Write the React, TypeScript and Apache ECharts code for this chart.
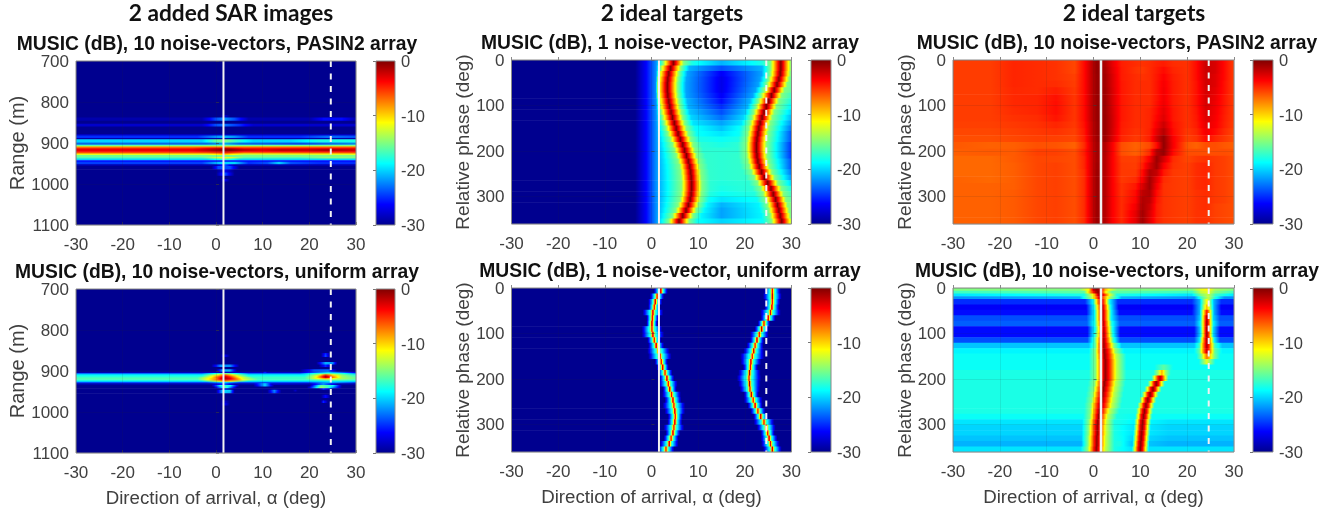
import React, { useEffect, useRef } from "react";
import * as echarts from "echarts";

// Every row below is a flat list of (direction of arrival in deg, MUSIC in dB) pairs.
const alphaLimits = [-30, 30];
const rangeLimits = [700, 1100];
const phaseLimits = [0, 360];
const colorbarLimits = [-30, 0];
const targetAlphaSolid = 1.6;
const targetAlphaDashed = 24.6;

const flat = [-30, -30, 30, -30];

const sarPasinEdges = [700, 832, 838, 846, 853, 860, 878, 882, 888, 891, 899, 904, 908, 911, 914, 920, 923, 926, 929, 934, 938, 942, 946, 952, 956, 964, 972, 980, 988, 994, 1100];
const sarPasinRows = [
  flat,
  [-30, -30, 1, -30, 2, -28, 3, -30, 30, -30],
  [-30, -29, -3, -29, 0, -24, 2, -22, 4, -24, 7, -29, 20, -29, 23, -26, 27, -26, 30, -29],
  flat,
  [-30, -28, -3, -28, 0, -24, 2, -23, 5, -25, 8, -28, 30, -28],
  flat,
  [-30, -28.5, 30, -28.5],
  [-30, -25, -4, -25, 0, -22, 2, -21, 4, -22, 7, -25, 18, -25, 24, -23, 30, -24],
  [-30, -29, 30, -29],
  [-30, -20, -3, -20, 0, -16, 2, -15, 4, -17, 8, -20, 16, -20, 22, -18, 30, -18],
  [-30, -23, -2, -23, 2, -21, 5, -23, 18, -24, 30, -22],
  [-30, -16, 30, -15],
  [-30, -9, 30, -8],
  [-30, -5, -5, -5, 2, -2, 6, -4.5, 30, -4],
  [-30, -3.2, -5, -3.2, -2, -2, 1, -0.6, 3, -0.3, 6, -2, 10, -3, 14, -2, 20, -2.2, 24, -1.4, 28, -2, 30, -2.5],
  [-30, -4, -5, -4, 2, -2, 6, -4, 16, -3.5, 30, -3.5],
  [-30, -8, -2, -8, 2, -6, 6, -9, 30, -8],
  [-30, -12, -2, -12, 2, -10, 6, -13, 30, -12],
  [-30, -15.5, 30, -15],
  [-30, -16.5, -3, -16.5, 1, -12, 3, -12, 6, -16, 18, -16.5, 24, -14.5, 30, -15],
  [-30, -20, -2, -20, 2, -17, 5, -20, 30, -20],
  [-30, -26, 30, -26],
  [-30, -24.5, -3, -24.5, 1, -20, 4, -20, 7, -25, 11, -24, 13.5, -20, 16, -24, 22, -25, 30, -25],
  [-30, -29, 0, -29, 2, -24, 4, -29, 30, -29],
  [-30, -30, -1, -30, 0.5, -24, 3, -24, 5, -30, 30, -30],
  [-30, -30, 0, -30, 2, -27, 4, -30, 30, -30],
  [-30, -30, 0, -30, 2, -24, 4, -30, 30, -30],
  flat,
  [-30, -30, 1, -30, 2, -27, 3, -30, 30, -30],
  flat,
];

const sarUniformEdges = [700, 856, 860, 866, 878, 884, 890, 896, 902, 905, 908, 911, 914, 917, 920, 923, 926, 930, 934, 938, 942, 946, 950, 954, 958, 966, 972, 978, 984, 1100];
const sarUniformRows = [
  flat,
  [-30, -30, 22.5, -30, 23.5, -25, 24.5, -30, 30, -30],
  [-30, -30, 1, -30, 2, -27, 3, -30, 22.5, -30, 23.5, -24, 24.5, -30, 30, -30],
  flat,
  [-30, -30, 21.5, -30, 23.5, -21, 25, -22, 26, -30, 30, -30],
  [-30, -30, -1, -30, 1, -22, 3, -22, 5, -30, 22, -30, 23.5, -25, 25, -30, 30, -30],
  flat,
  [-30, -30, 0, -30, 1.5, -21, 3, -21, 4.5, -30, 18, -30, 21, -24, 24, -23, 26, -30, 30, -30],
  [-30, -29, 10, -28, 10.5, -25, 11, -28, 18, -28, 24, -20, 30, -27],
  [-30, -23, -3, -23, 0, -18, 2, -15, 4, -18, 7, -23, 18, -23, 21, -18, 24, -16, 27, -18, 30, -22],
  [-30, -19, -3, -19, -0.5, -14, 2, -7, 4.5, -14, 7, -19, 19, -19, 22, -13, 23.5, -6, 25, -11, 27, -15, 30, -18],
  [-30, -18, -3, -18, -1, -12, 1, -6, 2, -3, 3, -6, 5, -13, 7, -18, 19, -18, 21.5, -12, 23.5, -1, 25, -8, 27, -14, 30, -17],
  [-30, -17, -4, -17, -1, -11, 1, -4, 2, -1.5, 3, -4, 5, -11, 8, -17, 19, -17, 21, -13, 22.5, -7, 23.5, -2, 25, -7, 27, -14, 30, -16],
  [-30, -16.5, -4, -16.5, -2, -12, 0, -8, 1, -3, 2, -1.5, 3, -3, 4.5, -8, 6, -13, 9, -17, 19, -17, 21, -13, 23.5, -8, 26, -13, 30, -16],
  [-30, -17, -4, -17, -2, -12, 0, -7, 1, -4, 2, -2.5, 3, -4, 4.5, -7, 6, -12, 9, -17, 20, -17, 24, -14, 30, -17],
  [-30, -19, -3, -19, 0, -13, 2, -9, 4, -13, 7, -19, 30, -19],
  [-30, -24, -2, -24, 2, -20, 5, -24, 20, -24, 24, -21, 30, -24],
  [-30, -29, -1, -29, 2, -24, 4, -29, 8, -29, 10.5, -20, 12, -28, 20, -29, 23, -22, 26, -29, 30, -29],
  [-30, -30, -1, -30, 1, -18, 3, -18, 5, -30, 8, -30, 10.5, -20, 12.5, -30, 20, -30, 22.5, -16, 25, -18, 27, -30, 30, -30],
  [-30, -30, -0.5, -30, 2, -16, 4.5, -30, 19.5, -30, 22.5, -14, 24, -17, 27, -30, 30, -30],
  [-30, -30, 1, -30, 2, -27, 3, -30, 22, -30, 23, -25, 25, -30, 30, -30],
  [-30, -30, 0, -30, 1.5, -20, 3, -20, 4, -30, 11, -30, 12.5, -22, 14, -30, 16.5, -30, 17, -28, 17.5, -30, 30, -30],
  [-30, -30, 0, -30, 1.5, -20, 3, -21, 4, -30, 11, -30, 12.5, -23, 14, -30, 30, -30],
  flat,
  [-30, -30, 22.5, -30, 23.5, -26, 24.5, -30, 30, -30],
  flat,
  [-30, -30, 1, -30, 2, -28, 3, -30, 22.5, -30, 23, -25, 24, -30, 30, -30],
  [-30, -30, 1, -30, 2, -27, 3, -30, 30, -30],
  flat,
];

const phaseEdges12 = [0, 12, 24, 36, 48, 60, 72, 84, 96, 108, 120, 132, 144, 156, 168, 180, 192, 204, 216, 228, 240, 252, 264, 276, 288, 300, 312, 324, 336, 348, 360];

const idealPasinSingleRows = [
  [-30, -30, -3.5, -30, -1, -26, 1, -22, 2.5, -15, 4.7, 0, 6.9, -15, 8.7, -18, 15, -21, 23.7, -18, 25.5, -15, 27.7, 0, 29.9, -15, 30, -16],
  [-30, -30, -3.5, -30, -1, -26, 1, -22, 1.9, -15, 4.1, 0, 6.3, -15, 8.1, -21, 15, -24, 23.7, -21, 25.5, -15, 27.7, 0, 29.9, -15, 30, -16],
  [-30, -30, -3.5, -30, -1, -26, 1, -22, 1.5, -15, 3.7, 0, 5.9, -15, 7.7, -21.5, 15, -26.5, 23.6, -21.5, 25.4, -15, 27.6, 0, 29.8, -15, 30, -16],
  [-30, -30, -3.5, -30, -1, -26, 1, -22, 1.3, -15, 3.5, 0, 5.7, -15, 7.5, -21.5, 15, -27, 23.3, -21.5, 25.1, -15, 27.3, 0, 29.5, -15, 30, -16],
  [-30, -30, -3.5, -30, -1, -26, 1, -22, 1.2, -15, 3.4, 0, 5.6, -15, 7.4, -21.5, 15, -27, 22.9, -21.5, 24.7, -15, 26.9, 0, 29.1, -15, 30, -16],
  [-30, -30, -3.5, -30, -1, -26, 1, -22, 1.2, -15, 3.4, 0, 5.6, -15, 7.4, -21.5, 15, -27, 22.3, -21.5, 24.1, -15, 26.3, 0, 28.5, -15, 30, -16],
  [-30, -30, -3.5, -30, -1, -26, 1, -22, 1.3, -15, 3.5, 0, 5.7, -15, 7.5, -21.5, 15, -26.5, 21.7, -21.5, 23.5, -15, 25.7, 0, 27.9, -15, 30, -17],
  [-30, -30, -3.5, -30, -1, -26, 1, -22, 1.5, -15, 3.7, 0, 5.9, -15, 7.7, -21, 15, -26, 21.1, -21, 22.9, -15, 25.1, 0, 27.3, -15, 30, -18],
  [-30, -30, -3.5, -30, -1, -26, 1, -22, 1.7, -15, 3.9, 0, 6.1, -15, 7.9, -21, 15, -25, 20.6, -21, 22.4, -15, 24.6, 0, 26.8, -15, 30, -19],
  [-30, -30, -3.5, -30, -1, -26, 1, -22, 2, -15, 4.2, 0, 6.4, -15, 8.2, -20.5, 15, -24, 20.1, -20.5, 21.9, -15, 24.1, 0, 26.3, -15, 30, -20],
  [-30, -30, -3.5, -30, -1, -26, 1, -22, 2.3, -15, 4.5, 0, 6.7, -15, 8.5, -20, 15, -23, 19.7, -20, 21.5, -15, 23.7, 0, 25.9, -15, 30, -21],
  [-30, -30, -3.5, -30, -1, -26, 1, -22, 2.7, -15, 4.9, 0, 7.1, -15, 8.9, -19.5, 15, -21.5, 19.3, -19.5, 21.1, -15, 23.3, 0, 25.5, -15, 30, -22],
  [-30, -30, -3.5, -30, -1, -26, 1, -22, 3.1, -15, 5.3, 0, 7.5, -15, 9.3, -18.5, 15, -20.5, 19, -18.5, 20.8, -15, 23, 0, 25.2, -15, 30, -23],
  [-30, -30, -3.5, -30, -1, -26, 1, -22, 3.5, -15, 5.7, 0, 7.9, -15, 9.7, -18.5, 15, -19.5, 18.8, -18.5, 20.6, -15, 22.8, 0, 25, -15, 30, -24],
  [-30, -30, -3.5, -30, -1, -26, 1, -22, 4, -15, 6.2, 0, 8.4, -15, 10.2, -18, 15, -18.5, 18.6, -18, 20.4, -15, 22.6, 0, 24.8, -15, 30, -24],
  [-30, -30, -3.5, -30, -1, -26, 1, -22, 4.5, -15, 6.7, 0, 8.9, -15, 10.7, -17.5, 15, -18, 18.5, -17.5, 20.3, -15, 22.5, 0, 24.7, -15, 30, -25],
  [-30, -30, -3.5, -30, -1, -26, 1, -22, 4.9, -15, 7.1, 0, 9.3, -15, 11.1, -17.5, 15, -17.5, 18.5, -17.5, 20.3, -15, 22.5, 0, 24.7, -15, 30, -25],
  [-30, -30, -3.5, -30, -1, -26, 1, -22, 5.3, -15, 7.5, 0, 9.7, -15, 11.5, -17.3, 15, -17.5, 18.6, -17.3, 20.4, -15, 22.6, 0, 24.8, -15, 30, -25],
  [-30, -30, -3.5, -30, -1, -26, 1, -22, 5.7, -15, 7.9, 0, 10.1, -15, 11.9, -17.3, 15, -17.5, 18.8, -17.3, 20.6, -15, 22.8, 0, 25, -15, 30, -24],
  [-30, -30, -3.5, -30, -1, -26, 1, -22, 6, -15, 8.2, 0, 10.4, -15, 12.2, -17.3, 15, -17.5, 19.1, -17.3, 20.9, -15, 23.1, 0, 25.3, -15, 30, -24],
  [-30, -30, -3.5, -30, -1, -26, 1, -22, 6.2, -15, 8.4, 0, 10.6, -15, 12.4, -17.3, 15, -17.5, 19.6, -17.3, 21.4, -15, 23.6, 0, 25.8, -15, 30, -23],
  [-30, -30, -3.5, -30, -1, -26, 1, -22, 6.3, -15, 8.5, 0, 10.7, -15, 12.5, -17.3, 15, -17.5, 20.2, -17.3, 22, -15, 24.2, 0, 26.4, -15, 30, -22],
  [-30, -30, -3.5, -30, -1, -26, 1, -22, 6.4, -15, 8.6, 0, 10.8, -15, 12.6, -17.5, 15, -17.8, 20.9, -17.5, 22.7, -15, 24.9, 0, 27.1, -15, 30, -20],
  [-30, -30, -3.5, -30, -1, -26, 1, -22, 6.4, -15, 8.6, 0, 10.8, -15, 12.6, -17.5, 15, -18, 21.6, -17.5, 23.4, -15, 25.6, 0, 27.8, -15, 30, -18],
  [-30, -30, -3.5, -30, -1, -26, 1, -22, 6.3, -15, 8.5, 0, 10.7, -15, 12.5, -17.8, 15, -18.5, 22.1, -17.8, 23.9, -15, 26.1, 0, 28.3, -15, 30, -17],
  [-30, -30, -3.5, -30, -1, -26, 1, -22, 6.1, -15, 8.3, 0, 10.5, -15, 12.3, -18.5, 15, -19.5, 22.6, -18.5, 24.4, -15, 26.6, 0, 28.8, -15, 30, -16],
  [-30, -30, -3.5, -30, -1, -26, 1, -22, 5.7, -15, 7.9, 0, 10.1, -15, 11.9, -19, 15, -21, 23, -19, 24.8, -15, 27, 0, 29.2, -15, 30, -15],
  [-30, -30, -3.5, -30, -1, -26, 1, -22, 5.2, -15, 7.4, 0, 9.6, -15, 11.4, -19, 15, -21.5, 23.3, -19, 25.1, -15, 27.3, 0, 29.5, -15, 30, -15],
  [-30, -30, -3.5, -30, -1, -26, 1, -22, 4.5, -15, 6.7, 0, 8.9, -15, 10.7, -19, 15, -21.5, 23.6, -19, 25.4, -15, 27.6, 0, 29.8, -15, 30, -15],
  [-30, -30, -3.5, -30, -1, -26, 1, -22, 3.7, -15, 5.9, 0, 8.1, -15, 9.9, -18.5, 15, -20, 23.9, -18.5, 25.7, -15, 27.9, 0, 30, -14],
];

const idealUniformSingleRows = [
  [-30, -30, 0.5, -30, 1.6, -16, 2, -1, 2.4, -16, 3.5, -30, 24.1, -30, 25.5, -16, 25.9, -3, 26.3, -16, 27.7, -30, 30, -30],
  [-30, -30, -0.3, -30, 0.8, -16, 1.2, -3, 1.6, -16, 2.7, -30, 23.9, -30, 25.5, -16, 25.9, -1, 26.3, -16, 27.9, -30, 30, -30],
  [-30, -30, -0.7, -30, 0.4, -16, 0.8, -1, 1.2, -16, 2.3, -30, 24.2, -30, 25.5, -16, 25.9, -3, 26.3, -16, 27.6, -30, 30, -30],
  [-30, -30, -0.7, -30, 0.2, -16, 0.6, -3, 1, -16, 1.9, -30, 24.2, -30, 25.4, -16, 25.8, -1, 26.2, -16, 27.4, -30, 30, -30],
  [-30, -30, -1.9, -30, -0.1, -16, 0.3, -1, 0.7, -16, 2.5, -30, 23.3, -30, 25.1, -16, 25.5, -3, 25.9, -16, 27.7, -30, 30, -30],
  [-30, -30, -1.1, -30, -0.2, -16, 0.2, -3, 0.6, -16, 1.5, -30, 23.4, -30, 24.6, -16, 25, -1, 25.4, -16, 26.6, -30, 30, -30],
  [-30, -30, -1.1, -30, -0.3, -16, 0.1, -1, 0.5, -16, 1.3, -30, 22.8, -30, 23.7, -16, 24.1, -3, 24.5, -16, 25.4, -30, 30, -30],
  [-30, -30, -2.1, -30, -0.3, -16, 0.1, -3, 0.5, -16, 2.3, -30, 22.1, -30, 23.2, -16, 23.6, -1, 24, -16, 25.1, -30, 30, -30],
  [-30, -30, -2.1, -30, -0.1, -16, 0.3, -1, 0.7, -16, 2.7, -30, 21.1, -30, 22.7, -16, 23.1, -3, 23.5, -16, 25.1, -30, 30, -30],
  [-30, -30, -0.9, -30, 0.2, -16, 0.6, -3, 1, -16, 2.1, -30, 21.1, -30, 22.2, -16, 22.6, -1, 23, -16, 24.1, -30, 30, -30],
  [-30, -30, -0.7, -30, 0.6, -16, 1, -1, 1.4, -16, 2.7, -30, 20.4, -30, 21.8, -16, 22.2, -3, 22.6, -16, 24, -30, 30, -30],
  [-30, -30, -0.9, -30, 1.1, -16, 1.5, -3, 1.9, -16, 3.9, -30, 19.7, -30, 21.5, -16, 21.9, -1, 22.3, -16, 24.1, -30, 30, -30],
  [-30, -30, -0.7, -30, 1.4, -16, 1.8, -1, 2.2, -16, 4.3, -30, 19, -30, 21.2, -16, 21.6, -3, 22, -16, 24.2, -30, 30, -30],
  [-30, -30, 0.7, -30, 1.7, -16, 2.1, -3, 2.5, -16, 3.5, -30, 19.1, -30, 20.9, -16, 21.3, -1, 21.7, -16, 23.5, -30, 30, -30],
  [-30, -30, 1.1, -30, 2, -16, 2.4, -1, 2.8, -16, 3.7, -30, 19.6, -30, 20.8, -16, 21.2, -3, 21.6, -16, 22.8, -30, 30, -30],
  [-30, -30, 1.3, -30, 2.5, -16, 2.9, -3, 3.3, -16, 4.5, -30, 18.6, -30, 20.6, -16, 21, -1, 21.4, -16, 23.4, -30, 30, -30],
  [-30, -30, 1.7, -30, 2.9, -16, 3.3, -1, 3.7, -16, 4.9, -30, 18.3, -30, 20.5, -16, 20.9, -3, 21.3, -16, 23.5, -30, 30, -30],
  [-30, -30, 1.6, -30, 3.2, -16, 3.6, -3, 4, -16, 5.6, -30, 18.6, -30, 20.6, -16, 21, -1, 21.4, -16, 23.4, -30, 30, -30],
  [-30, -30, 2.4, -30, 3.5, -16, 3.9, -1, 4.3, -16, 5.4, -30, 18.9, -30, 20.7, -16, 21.1, -3, 21.5, -16, 23.3, -30, 30, -30],
  [-30, -30, 2.3, -30, 3.9, -16, 4.3, -3, 4.7, -16, 6.3, -30, 19.8, -30, 21, -16, 21.4, -1, 21.8, -16, 23, -30, 30, -30],
  [-30, -30, 2.8, -30, 4.2, -16, 4.6, -1, 5, -16, 6.4, -30, 19.8, -30, 21.4, -16, 21.8, -3, 22.2, -16, 23.8, -30, 30, -30],
  [-30, -30, 2.4, -30, 4.4, -16, 4.8, -3, 5.2, -16, 7.2, -30, 20.6, -30, 21.8, -16, 22.2, -1, 22.6, -16, 23.8, -30, 30, -30],
  [-30, -30, 2.8, -30, 4.6, -16, 5, -1, 5.4, -16, 7.2, -30, 21.2, -30, 22.4, -16, 22.8, -3, 23.2, -16, 24.4, -30, 30, -30],
  [-30, -30, 3.5, -30, 4.7, -16, 5.1, -3, 5.5, -16, 6.7, -30, 21.8, -30, 23, -16, 23.4, -1, 23.8, -16, 25, -30, 30, -30],
  [-30, -30, 3.4, -30, 4.6, -16, 5, -1, 5.4, -16, 6.6, -30, 21.9, -30, 23.7, -16, 24.1, -3, 24.5, -16, 26.3, -30, 30, -30],
  [-30, -30, 2.6, -30, 4.4, -16, 4.8, -3, 5.2, -16, 7, -30, 22.6, -30, 24.2, -16, 24.6, -1, 25, -16, 26.6, -30, 30, -30],
  [-30, -30, 3, -30, 4.2, -16, 4.6, -1, 5, -16, 6.2, -30, 23.4, -30, 24.5, -16, 24.9, -3, 25.3, -16, 26.4, -30, 30, -30],
  [-30, -30, 2.6, -30, 3.8, -16, 4.2, -3, 4.6, -16, 5.8, -30, 23.4, -30, 24.8, -16, 25.2, -1, 25.6, -16, 27, -30, 30, -30],
  [-30, -30, 1.8, -30, 3.4, -16, 3.8, -1, 4.2, -16, 5.8, -30, 23.5, -30, 25.1, -16, 25.5, -3, 25.9, -16, 27.5, -30, 30, -30],
  [-30, -30, 1.3, -30, 2.7, -16, 3.1, -3, 3.5, -16, 4.9, -30, 23.9, -30, 25.5, -16, 25.9, -1, 26.3, -16, 27.9, -30, 30, -30],
];

const phaseEdges15 = [0, 15, 30, 45, 60, 75, 90, 105, 120, 135, 150, 165, 180, 195, 210, 225, 240, 255, 270, 285, 300, 315, 330, 345, 360];
const idealPasinColumns = [-30, -22, -17, -12, -8, -4, -2, -0.5, 0.7, 2.5, 4, 6, 9, 10.5, 12, 13.5, 15, 17, 20, 22, 24, 26, 28, 30];
const idealPasinMatrix = [
  [-5.5, -5.5, -4.8, -5, -5.2, -5.8, -4, -2, -0.6, -1.4, -3, -4.6, -5, -5.2, -5, -4.7, -4.5, -5, -5.2, -4, -2.2, -2.6, -4, -5.5],
  [-5.5, -5.5, -4.8, -5, -5.2, -5.8, -4, -2, -0.6, -1.2, -2.8, -4.5, -5.2, -5.4, -5, -4.5, -4, -4.8, -5.2, -4, -2.2, -2.6, -4, -5.5],
  [-5.5, -5.5, -4.8, -5, -5.2, -5.6, -4, -2, -0.7, -1, -2.6, -4.5, -5, -5.2, -5, -4.4, -3.7, -4.6, -5.2, -4, -2.3, -2.8, -4, -5.5],
  [-5.5, -5.5, -4.8, -5, -5, -5.5, -4, -2, -0.7, -1, -2.6, -4.4, -5, -5, -5, -4.3, -3.5, -4.5, -5.2, -4.2, -2.4, -2.8, -4.2, -5.5],
  [-5.5, -5.5, -4.9, -5, -4.6, -5.4, -4, -2, -0.7, -0.9, -2.5, -4.4, -5, -5, -5, -4.3, -3.4, -4.5, -5.2, -4.2, -2.5, -3, -4.2, -5.5],
  [-5.5, -5.5, -4.9, -4.8, -4.2, -5.3, -4, -2, -0.7, -0.9, -2.5, -4.4, -5, -5, -5, -4.3, -3.4, -4.5, -5.2, -4.2, -2.6, -3.2, -4.4, -5.5],
  [-5.5, -5.5, -4.9, -4.8, -4.1, -5.3, -4, -2, -0.7, -0.8, -2.5, -4.4, -5, -5, -5, -4.2, -3.3, -4.5, -5.2, -4.2, -2.6, -3.3, -4.4, -5.5],
  [-5.5, -5.5, -5, -4.8, -4.1, -5.3, -4, -2, -0.7, -0.8, -2.4, -4.4, -5, -5, -4.8, -4, -3, -4.4, -5.2, -4.3, -2.7, -3.4, -4.5, -5.5],
  [-5.5, -5.5, -5.2, -5, -4.3, -5.3, -4, -2, -0.7, -0.7, -2.3, -4.4, -5, -5, -4.8, -3.8, -2.8, -4.4, -5.2, -4.4, -2.8, -3.5, -4.6, -5.5],
  [-5.6, -5.6, -5.4, -5.2, -4.8, -5.4, -4.2, -2.2, -0.8, -0.7, -2.3, -4.5, -5, -5, -4.8, -3.5, -2.2, -4.2, -5.2, -4.5, -3, -3.6, -4.7, -5.6],
  [-5.8, -5.8, -5.6, -5.4, -5.2, -5.6, -4.4, -2.2, -0.8, -0.7, -2.4, -4.6, -5.2, -5.1, -4.7, -3, -1.6, -4, -5.4, -4.8, -3.4, -4, -5, -5.8],
  [-6, -6, -5.8, -5.6, -5.6, -5.8, -4.6, -2.4, -0.9, -0.8, -2.6, -4.8, -5.4, -5.2, -4.6, -2.4, -0.6, -3.6, -5.6, -5.2, -4, -4.8, -5.4, -6],
  [-6.3, -6.6, -6.5, -6.1, -6.2, -6.6, -5, -2.6, -1, -1.5, -3.5, -6, -6.6, -6.3, -5.9, -4, -0.5, -3.5, -6.3, -6.6, -6, -6, -6.3, -6.5],
  [-6.5, -6.4, -6.4, -5.6, -5.6, -6, -4.6, -2.6, -1, -1.5, -3.5, -6, -6.5, -6, -5, -1.5, -0.7, -4, -6, -6, -6, -6, -6, -6.2],
  [-6.8, -6.8, -6.4, -5.8, -5.8, -6, -4.8, -2.6, -1, -1.6, -3.6, -5.5, -5.6, -5, -3.5, -0.8, -2.5, -5, -5.8, -5.4, -5.2, -5.4, -5.6, -6],
  [-6.8, -6.8, -6.5, -5.8, -5.6, -6, -4.8, -2.6, -0.9, -1.6, -3.6, -5.4, -5.5, -4.6, -2.5, -1, -3.6, -5.2, -5.6, -5, -4.8, -5.4, -5.6, -6],
  [-6.8, -6.8, -6.5, -5.8, -5.6, -6, -5, -2.6, -0.8, -1.6, -3.6, -5.4, -5.4, -4, -1.4, -2, -4.4, -5.4, -5.6, -5, -4.8, -5.4, -5.6, -6],
  [-6.6, -6.8, -6.5, -5.8, -5.6, -6, -5, -2.6, -0.8, -1.6, -3.6, -5.4, -5, -3.5, -1, -3, -5, -5.4, -5.6, -5, -4.8, -5.4, -5.6, -6],
  [-6.6, -6.6, -6.5, -5.8, -5.6, -6, -5, -2.6, -0.8, -1.6, -3.6, -5.2, -4.4, -2.6, -1, -3.5, -5.2, -5.4, -5.6, -5, -4.8, -5.4, -5.6, -6],
  [-6.6, -6.6, -6.4, -5.8, -5.6, -6, -5, -2.6, -0.8, -1.6, -3.6, -5.2, -4, -1.8, -1.4, -4, -5.2, -5.4, -5.6, -5.2, -5, -5.4, -5.6, -6],
  [-6.6, -6.6, -6.4, -5.8, -5.6, -6, -5, -2.6, -0.8, -1.6, -3.6, -5, -3.8, -1.4, -1.8, -4.3, -5.2, -5.4, -5.6, -5.2, -5, -5.4, -5.6, -6],
  [-6.6, -6.6, -6.4, -5.8, -5.6, -6, -5, -2.6, -0.8, -1.6, -3.6, -5, -3.4, -1.2, -2.2, -4.5, -5.2, -5.4, -5.6, -5.2, -5, -5.6, -5.8, -6],
  [-6.6, -6.6, -6.4, -5.8, -5.6, -6, -5, -2.6, -0.8, -1.6, -3.6, -5, -3, -1, -2.6, -4.5, -5.2, -5.4, -5.6, -5.2, -5.2, -5.6, -5.8, -6],
  [-6.6, -6.6, -6.4, -5.8, -5.6, -6, -5, -2.6, -0.8, -1.6, -3.6, -4.9, -3, -1, -2.8, -4.6, -5.2, -5.4, -5.6, -5.2, -5.2, -5.6, -5.8, -6],
];

const idealUniformEdges = [0, 6, 12, 18, 24, 36, 48, 60, 72, 84, 96, 108, 120, 132, 144, 156, 168, 180, 192, 204, 216, 228, 240, 252, 264, 276, 288, 300, 312, 324, 336, 348, 360];
const idealUniformRows = [
  [-30, -15, -3, -15, -1, -11, 0, -2, 0.7, -0.5, 1.5, -2, 2.5, -9, 3.5, -12, 5, -15, 21, -15, 23, -12, 24.5, -11, 26, -14, 30, -15],
  [-30, -17, -2, -16, -1, -10, 0.4, -2, 1, -0.5, 1.6, -3, 2.6, -11, 4, -16, 21, -17, 23, -13, 24.5, -12, 26, -15, 30, -17],
  [-30, -19.5, -2, -18, 0, -11, 1, -2, 1.5, -1, 2, -3, 3.5, -12, 5, -18, 21, -19.5, 23, -15, 24.5, -13, 26, -17, 30, -19.5],
  [-30, -22, -3, -21, -0.5, -14, 0.8, -6, 1.4, -1, 2, -6, 3.5, -14, 6, -21, 21.5, -22, 23, -17, 24.5, -13, 26, -18, 28, -22, 30, -22],
  [-30, -25, -1.8, -25, -0.1, -19, 0.8, -9, 1.7, -1.5, 2.6, -9, 3.5, -19, 5.2, -25, 21, -25, 22.7, -21, 23.5, -15, 24.2, -11, 24.9, -15, 25.7, -21, 27.3, -25, 30, -25],
  [-30, -26.5, -1.6, -26.5, 0.1, -19, 1, -9, 1.9, -1.5, 2.8, -9, 3.7, -19, 5.4, -26.5, 21, -26.5, 22.7, -21, 23.5, -14, 24.2, -9, 24.9, -14, 25.7, -21, 27.3, -26.5, 30, -26.5],
  [-30, -26, -1.5, -26, 0.2, -19, 1.1, -9, 2, -1.5, 2.9, -9, 3.8, -19, 5.5, -26, 21, -26, 22.7, -21, 23.4, -12, 24.2, -4, 25, -12, 25.7, -21, 27.3, -26, 30, -26],
  [-30, -24, -1.5, -24, 0.2, -19, 1.1, -9, 2, -1.5, 2.9, -9, 3.8, -19, 5.5, -24, 21.5, -24, 22.8, -20, 23.4, -11, 24.2, -1, 25, -11, 25.6, -20, 27, -24, 30, -24],
  [-30, -23.5, -1.4, -23.5, 0.3, -18, 1.2, -9, 2.1, -1.5, 3, -9, 3.9, -18, 5.6, -23.5, 21.5, -23.5, 22.8, -19, 23.4, -11, 24.2, -0.5, 25, -11, 25.6, -19, 27, -23.5, 30, -23.5],
  [-30, -26, -1.3, -26, 0.4, -18, 1.3, -9, 2.2, -1.5, 3.1, -9, 4, -18, 5.7, -26, 21.5, -26, 22.8, -20, 23.4, -11, 24.2, -0.5, 25, -11, 25.6, -20, 27, -26, 30, -26],
  [-30, -26, -1.3, -26, 0.3, -18, 1.3, -8.5, 2.2, -1.2, 3.1, -8.5, 4.1, -18, 5.7, -26, 21.5, -26, 22.8, -20, 23.4, -11, 24.2, -0.5, 25, -11, 25.6, -20, 27, -26, 30, -26],
  [-30, -24, -1.3, -24, 0.2, -17, 1.2, -8, 2.2, -1, 3.2, -8, 4.2, -17, 5.7, -24, 21.5, -24, 22.7, -19, 23.3, -10, 24.2, -1, 25.1, -10, 25.8, -19, 27, -24, 30, -24],
  [-30, -20.5, -1, -20.5, 0.4, -16, 1.1, -8, 2.2, -0.8, 3.3, -7, 4.4, -15, 6, -20.5, 21.5, -20.5, 22.6, -17, 23.3, -9, 24.2, -1, 25.1, -9, 25.9, -17, 27.5, -20.5, 30, -20.5],
  [-30, -19, -1, -19, 0.4, -15, 1.1, -8, 2.3, -0.6, 3.5, -6, 4.6, -14, 6.5, -19, 21.5, -19, 22.6, -16, 23.3, -9, 24.2, -2, 25.1, -9, 25.9, -16, 27.5, -19, 30, -19],
  [-30, -18.5, -1, -18.5, 0.4, -15, 1.2, -8, 2.4, -0.6, 3.6, -6, 4.8, -13, 7, -18.5, 22, -18.5, 23, -15, 23.7, -10, 24.2, -7, 24.9, -10, 25.8, -15, 27, -18.5, 30, -18.5],
  [-30, -18.5, -1, -18.5, 0.4, -15, 1.3, -8, 2.5, -0.5, 3.7, -6, 4.9, -13, 7, -18.5, 22.5, -18.5, 24.2, -12, 26, -18.5, 30, -18.5],
  [-30, -18.5, -1, -18.5, 0.4, -15, 1.3, -8, 2.5, -0.5, 3.7, -6, 4.9, -13, 7, -18.5, 13, -18.5, 15, -16, 17, -18.5, 30, -18.5],
  [-30, -18, -1, -18, 0.4, -15, 1.3, -8, 2.5, -0.5, 3.7, -6, 4.9, -13, 7, -18, 12.8, -18, 13.8, -14, 14.6, -9, 15.4, -14, 16.5, -18, 30, -18],
  [-30, -18, -1, -18, 0.4, -15, 1.3, -8, 2.5, -0.5, 3.7, -6, 4.9, -13, 7, -18, 12.4, -18, 13.1, -11, 13.7, -5, 14.2, -1.5, 14.7, -5, 15.3, -11, 16, -18, 30, -18],
  [-30, -18, -1.2, -18, 0.2, -15, 1.1, -8, 2.3, -0.5, 3.5, -6, 4.7, -13, 6.8, -18, 11.6, -18, 12.3, -11, 12.9, -4, 13.4, -0.5, 13.9, -4, 14.5, -11, 15.2, -18, 30, -18],
  [-30, -18, -1.4, -18, 0, -15, 0.9, -8, 2.1, -0.5, 3.3, -6, 4.5, -13, 6.6, -18, 10.9, -18, 11.6, -11, 12.2, -4, 12.7, -0.5, 13.2, -4, 13.8, -11, 14.5, -18, 30, -18],
  [-30, -18, -1.6, -18, -0.2, -15, 0.7, -8, 1.9, -0.5, 3.1, -6, 4.3, -13, 6.4, -18, 10.3, -18, 11, -11, 11.6, -4, 12.1, -0.5, 12.6, -4, 13.2, -11, 13.9, -18, 30, -18],
  [-30, -18, -1.8, -18, -0.4, -15, 0.5, -8, 1.7, -0.5, 2.9, -6, 4.1, -13, 6.2, -18, 9.8, -18, 10.5, -11, 11.1, -4, 11.6, -0.5, 12.1, -4, 12.7, -11, 13.4, -18, 30, -18],
  [-30, -18, -2, -18, -0.6, -15, 0.3, -8, 1.5, -0.5, 2.7, -6, 3.9, -13, 6, -18, 9.4, -18, 10.1, -11, 10.7, -4, 11.2, -0.5, 11.7, -4, 12.3, -11, 13, -18, 30, -18],
  [-30, -18, -2, -18, -0.7, -15, 0.2, -8, 1.3, -0.5, 2.4, -7, 3.4, -13, 5.5, -18, 9.1, -18, 9.8, -11, 10.4, -4, 10.9, -0.5, 11.4, -4, 12, -11, 12.7, -18, 30, -18],
  [-30, -18.5, -2.2, -18.5, -0.8, -15, 0.1, -8, 1.1, -0.5, 2.1, -7, 3, -13, 5, -18, 8.9, -18.5, 9.6, -11, 10.2, -4, 10.7, -0.5, 11.2, -4, 11.8, -11, 12.5, -18.5, 30, -18.5],
  [-30, -19.5, -2.4, -19.5, -1, -15, -0.1, -8, 0.9, -0.5, 1.9, -7, 2.8, -13, 4.5, -18, 7, -18.5, 8.7, -19, 9.4, -11, 10, -4, 10.5, -0.5, 11, -4, 11.6, -11, 12.3, -19, 16, -19.5, 30, -19.5],
  [-30, -20, -2.5, -20, -1.1, -15, -0.2, -8, 0.8, -0.5, 1.8, -7, 2.7, -13, 4.5, -18, 7, -19, 8.6, -19.5, 9.3, -11, 9.9, -4, 10.4, -0.5, 10.9, -4, 11.5, -11, 12.2, -19.5, 16, -20, 30, -20],
  [-30, -20, -2.5, -20, -1.1, -15, -0.2, -8, 0.8, -0.5, 1.8, -7, 2.7, -13, 4.5, -18, 7, -19, 8.5, -19.5, 9.2, -11, 9.8, -4, 10.3, -0.5, 10.8, -4, 11.4, -11, 12.1, -19.5, 16, -20, 30, -20],
  [-30, -20.5, -2.6, -20.5, -1.2, -15, -0.3, -8, 0.7, -0.5, 1.7, -7, 2.6, -13, 4.5, -18, 6, -18.5, 8.4, -20, 9.1, -11, 9.7, -4, 10.2, -0.5, 10.7, -4, 11.3, -11, 12, -20, 16, -20.5, 30, -20.5],
  [-30, -21, -2.6, -21, -1.2, -15, -0.3, -8, 0.7, -0.5, 1.7, -7, 2.6, -13, 4.5, -18, 5.6, -18, 8.3, -20.5, 9, -11, 9.6, -4, 10.1, -0.5, 10.6, -4, 11.2, -11, 11.9, -20.5, 16, -21, 30, -21],
  [-30, -19.5, -2.7, -19.5, -1.3, -15, -0.4, -8, 0.6, -0.5, 1.6, -7, 2.5, -13, 4.5, -18, 8.2, -19.5, 8.9, -11, 9.5, -4, 10, -0.5, 10.5, -4, 11.1, -11, 11.8, -19.5, 30, -19.5],
];

const sectionTitles = ["2 added SAR images", "2 ideal targets", "2 ideal targets"];
const panelTitles = [
  "MUSIC (dB), 10 noise-vectors, PASIN2 array",
  "MUSIC (dB), 10 noise-vectors, uniform array",
  "MUSIC (dB), 1 noise-vector, PASIN2 array",
  "MUSIC (dB), 1 noise-vector, uniform array",
  "MUSIC (dB), 10 noise-vectors, PASIN2 array",
  "MUSIC (dB), 10 noise-vectors, uniform array",
];
const yNames = ["Range (m)", "Relative phase (deg)"];
const xName = "Direction of arrival, α (deg)";

const zipColumns = (columns: number[], matrix: number[][]) =>
  matrix.map((row) => row.flatMap((v, i) => [columns[i], v]));

const jetStops: [number, number[]][] = [
  [-30, [0, 0, 143]],
  [-26.25, [0, 0, 255]],
  [-18.75, [0, 255, 255]],
  [-11.25, [255, 255, 0]],
  [-3.75, [255, 0, 0]],
  [0, [128, 0, 0]],
];

function jet(db: number) {
  const v = Math.max(-30, Math.min(0, db));
  for (let i = 1; i < jetStops.length; i++) {
    if (v <= jetStops[i][0]) {
      const [d0, c0] = jetStops[i - 1];
      const [d1, c1] = jetStops[i];
      const t = (v - d0) / (d1 - d0);
      return `rgb(${c0.map((c, k) => Math.round(c + (c1[k] - c) * t)).join(",")})`;
    }
  }
  return "rgb(128,0,0)";
}

// Colour stops for one row: jet is piecewise linear, so its corners are added between the row's knots.
function rowStops(row: number[], lo: number, hi: number) {
  const out: { offset: number; color: string }[] = [];
  const off = (a: number) => Math.max(0, Math.min(1, (a - lo) / (hi - lo)));
  for (let i = 0; i + 1 < row.length; i += 2) {
    const a0 = row[i];
    const v0 = row[i + 1];
    out.push({ offset: off(a0), color: jet(v0) });
    if (i + 3 < row.length) {
      const a1 = row[i + 2];
      const v1 = row[i + 3];
      const crossings = jetStops
        .map((s) => s[0])
        .filter((d) => d > Math.min(v0, v1) && d < Math.max(v0, v1))
        .map((d) => ({ d, a: a0 + ((d - v0) / (v1 - v0)) * (a1 - a0) }))
        .sort((p, q) => p.a - q.a);
      crossings.forEach((c) => out.push({ offset: off(c.a), color: jet(c.d) }));
    }
  }
  return out;
}

const font = "'Liberation Sans', Arial, sans-serif";
const labelColor = "#404040";
const frameColor = "#8a8a8a";

const panels = [
  { left: 76, right: 356, top: 61, cbL: 376, cbR: 395, edges: sarPasinEdges, rows: sarPasinRows, y: rangeLimits, yName: 0, gap: 45, titleX: 217, x: false, lineW: 2 },
  { left: 76, right: 356, top: 289, cbL: 376, cbR: 395, edges: sarUniformEdges, rows: sarUniformRows, y: rangeLimits, yName: 0, gap: 45, titleX: 217, x: true, lineW: 2 },
  { left: 511.5, right: 791.5, top: 60, cbL: 811, cbR: 831, edges: phaseEdges12, rows: idealPasinSingleRows, y: phaseLimits, yName: 1, gap: 36, titleX: 670, x: false, lineW: 2 },
  { left: 511.5, right: 791.5, top: 288, cbL: 811, cbR: 831, edges: phaseEdges12, rows: idealUniformSingleRows, y: phaseLimits, yName: 1, gap: 36, titleX: 670, x: true, lineW: 2 },
  { left: 953, right: 1234, top: 60, cbL: 1253, cbR: 1273, edges: phaseEdges15, rows: zipColumns(idealPasinColumns, idealPasinMatrix), y: phaseLimits, yName: 1, gap: 39, titleX: 1117, x: false, lineW: 2.5 },
  { left: 953, right: 1234, top: 288, cbL: 1253, cbR: 1273, edges: idealUniformEdges, rows: idealUniformRows, y: phaseLimits, yName: 1, gap: 39, titleX: 1117, x: true, lineW: 2.5 },
];
const plotHeight = 164;
const sectionCentres = [231, 672, 1134];

function buildOption() {
  const grid: any[] = [];
  const xAxis: any[] = [];
  const yAxis: any[] = [];
  const series: any[] = [];
  const title: any[] = [];
  const graphic: any[] = [];

  sectionTitles.forEach((text, i) => {
    title.push({
      text, left: sectionCentres[i], top: 1, padding: 0, textAlign: "center",
      textStyle: { fontFamily: "Lato, sans-serif", fontWeight: "bold", fontSize: 22.7, color: "#111" },
    });
  });

  panels.forEach((p, i) => {
    title.push({
      text: panelTitles[i], left: p.titleX, top: p.top - 27, padding: 0, textAlign: "center",
      textStyle: { fontFamily: font, fontWeight: "bold", fontSize: 19.3, color: "#111" },
    });

    // Map grid
    const g = grid.length;
    grid.push({ left: p.left, top: p.top, width: p.right - p.left, height: plotHeight });
    xAxis.push({
      type: "value", gridIndex: g, min: alphaLimits[0], max: alphaLimits[1], interval: 10, z: 3,
      axisLine: { show: false },
      axisTick: { inside: true, length: 3, lineStyle: { color: "rgba(60,60,60,0.6)" } },
      splitLine: { show: true, lineStyle: { color: "rgba(40,40,40,0.1)", width: 1 } },
      axisLabel: { fontFamily: font, fontSize: 17, color: labelColor, margin: 11 },
      ...(p.x ? { name: xName, nameLocation: "middle", nameGap: 35, nameTextStyle: { fontFamily: font, fontSize: 18.7, color: labelColor } } : {}),
    });
    yAxis.push({
      type: "value", gridIndex: g, min: p.y[0], max: p.y[1], interval: 100, inverse: true, z: 3,
      axisLine: { show: false },
      axisTick: { inside: true, length: 3, lineStyle: { color: "rgba(60,60,60,0.6)" } },
      splitLine: { show: true, lineStyle: { color: "rgba(40,40,40,0.1)", width: 1 } },
      axisLabel: { fontFamily: font, fontSize: 17, color: labelColor, margin: 7, showMaxLabel: p.yName === 0, formatter: (v: number) => String(v) },
      name: yNames[p.yName], nameLocation: "middle", nameGap: p.gap, nameRotate: 90,
      nameTextStyle: { fontFamily: font, fontSize: p.yName === 0 ? 20 : 19, color: labelColor },
    });
    series.push({
      type: "custom", xAxisIndex: g, yAxisIndex: g, z: 2, clip: true, silent: true,
      encode: { x: 0, y: 1 },
      data: p.edges.slice(0, -1).map((e) => [alphaLimits[0], e]),
      renderItem: (params: any, api: any) => {
        const k = params.dataIndex;
        const a = api.coord([alphaLimits[0], p.edges[k]]);
        const b = api.coord([alphaLimits[1], p.edges[k + 1]]);
        return {
          type: "rect",
          shape: { x: a[0], y: a[1], width: b[0] - a[0], height: b[1] - a[1] + 0.6 },
          style: { fill: new echarts.graphic.LinearGradient(0, 0, 1, 0, rowStops(p.rows[k], alphaLimits[0], alphaLimits[1])) },
        };
      },
    });
    const lineBase = { type: "line", xAxisIndex: g, yAxisIndex: g, z: 4, showSymbol: false, symbol: "none", silent: true };
    series.push({
      ...lineBase,
      data: [[targetAlphaSolid, p.y[0]], [targetAlphaSolid, p.y[1]]],
      lineStyle: { color: "#f2f2f2", width: p.lineW },
    });
    series.push({
      ...lineBase,
      data: [[targetAlphaDashed, p.y[0]], [targetAlphaDashed, p.y[1]]],
      lineStyle: { color: "#f2f2f2", width: 2, type: [6, 6.5] },
    });
    graphic.push({
      type: "rect", z: 6, silent: true,
      shape: { x: p.left, y: p.top, width: p.right - p.left, height: plotHeight },
      style: { fill: "none", stroke: frameColor, lineWidth: 1 },
    });

    // Colour bar grid
    const c = grid.length;
    grid.push({ left: p.cbL, top: p.top, width: p.cbR - p.cbL, height: plotHeight });
    xAxis.push({ type: "value", gridIndex: c, min: 0, max: 1, show: false });
    yAxis.push({
      type: "value", gridIndex: c, min: colorbarLimits[0], max: colorbarLimits[1], interval: 10, position: "right", z: 3,
      axisLine: { show: false },
      axisTick: { inside: true, length: 3, lineStyle: { color: "rgba(60,60,60,0.7)" } },
      splitLine: { show: false },
      axisLabel: { fontFamily: font, fontSize: 16.5, color: labelColor, margin: 6 },
    });
    series.push({
      type: "custom", xAxisIndex: c, yAxisIndex: c, z: 2, silent: true,
      encode: { x: 0, y: 1 },
      data: [[0, colorbarLimits[0]]],
      renderItem: (_: any, api: any) => {
        const a = api.coord([0, colorbarLimits[1]]);
        const b = api.coord([1, colorbarLimits[0]]);
        return {
          type: "rect",
          shape: { x: a[0], y: a[1], width: b[0] - a[0], height: b[1] - a[1] },
          style: { fill: new echarts.graphic.LinearGradient(0, 1, 0, 0, rowStops([colorbarLimits[0], colorbarLimits[0], colorbarLimits[1], colorbarLimits[1]], colorbarLimits[0], colorbarLimits[1])) },
        };
      },
    });
    graphic.push({
      type: "rect", z: 6, silent: true,
      shape: { x: p.cbL, y: p.top, width: p.cbR - p.cbL, height: plotHeight },
      style: { fill: "none", stroke: frameColor, lineWidth: 1 },
    });
  });

  return { animation: false, backgroundColor: "#ffffff", title, grid, xAxis, yAxis, series, graphic: { elements: graphic } };
}

export default function App() {
  const ref = useRef<HTMLDivElement>(null);
  useEffect(() => {
    document.body.style.margin = "0";
    const chart = echarts.init(ref.current!, undefined, { renderer: "svg" });
    chart.setOption(buildOption());
    return () => chart.dispose();
  }, []);
  return <div ref={ref} style={{ width: 1337, height: 512, filter: "blur(0.5px)" }} />;
}
